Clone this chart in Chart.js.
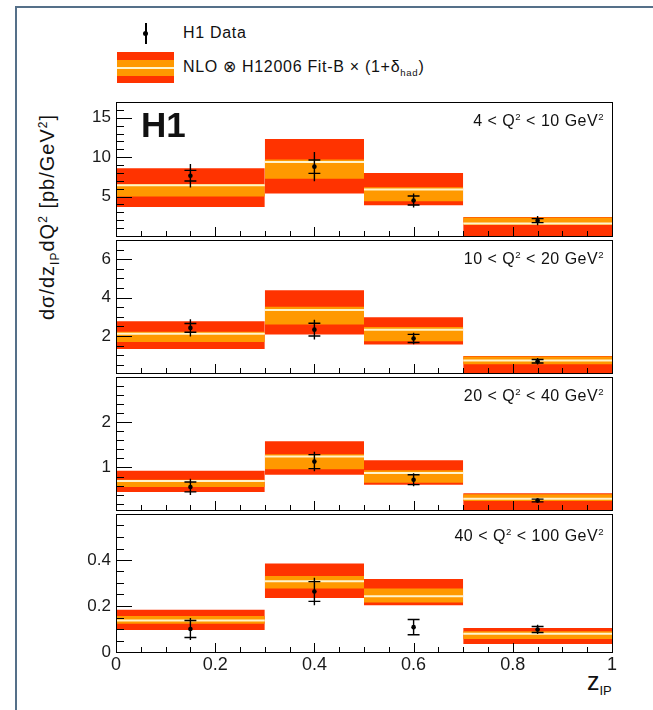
<!DOCTYPE html>
<html lang="en">
<head>
  <meta charset="UTF-8" />
  <title>H1 dijets in DIS: d&sigma;/dz dQ&sup2;</title>
  <script src="https://cdn.jsdelivr.net/npm/chart.js"></script>
  <style>
    body { margin: 0; background: #fff; font-family: 'Liberation Sans', Arial, sans-serif; color: #111; }
    #page { position: relative; width: 653px; height: 710px; overflow: hidden; }
    #frame { position: absolute; left: 15px; top: 6px; width: 700px; height: 800px;
             border-left: 2px solid #557089; border-top: 2px solid #557089; }
    canvas { position: absolute; left: 0; }
    .txt { position: absolute; white-space: nowrap; }
    .qlab { right: 49px; font-size: 16px; line-height: 16px; letter-spacing: 0.5px; }
    .leg { left: 183px; font-size: 16px; line-height: 16px; letter-spacing: 0.7px; }
    sup { font-size: 0.6em; vertical-align: 0.6em; line-height: 0; }
    sub { font-size: 0.6em; vertical-align: -0.4em; line-height: 0; }
    #h1 { left: 141px; top: 107px; font-size: 35px; line-height: 35px; font-weight: bold; }
    #ytitle { left: 47px; top: 217px; font-size: 20px; line-height: 20px; letter-spacing: 1px;
              transform: translate(-50%, -50%) rotate(-90deg); }
    #xtitle { left: 587px; top: 669px; font-size: 25px; line-height: 25px; }
    #legBar { position: absolute; left: 145px; top: 23px; width: 1.5px; height: 21px; background: #000; }
    #legDot { position: absolute; left: 143px; top: 31px; width: 5px; height: 5px; border-radius: 50%; background: #000; }
    #legBand { position: absolute; left: 117px; top: 52px; width: 57px; height: 31px;
               background: linear-gradient(to bottom, #ff3300 0 8px, #ff9900 8px 15px, #fff4cc 15px 17px,
                                           #ff9900 17px 24px, #ff3300 24px 31px); }
  </style>
</head>
<body>
<div id="page">
  <div id="frame"></div>
  <div id="legBar"></div><div id="legDot"></div>
  <div class="txt leg" style="top:25px">H1 Data</div>
  <div id="legBand"></div>
  <div class="txt leg" style="top:59px">NLO &#8855; H12006 Fit-B &times; (1+&delta;<sub>had</sub>)</div>
  <div class="txt" id="ytitle">d&sigma;/dz<sub>IP</sub>dQ<sup>2</sup> [pb/GeV<sup>2</sup>]</div>
  <div class="txt" id="xtitle">z<span style="font-size:13px;position:relative;top:5px">IP</span></div>
</div>

<script>
  // bins in z_IP
  const zBinEdges = [0, 0.3, 0.5, 0.7, 1.0]
  const zPoints = [0.15, 0.4, 0.6, 0.85]
  const q2Labels = [
    '4 &lt; Q<sup>2</sup> &lt; 10 GeV<sup>2</sup>',
    '10 &lt; Q<sup>2</sup> &lt; 20 GeV<sup>2</sup>',
    '20 &lt; Q<sup>2</sup> &lt; 40 GeV<sup>2</sup>',
    '40 &lt; Q<sup>2</sup> &lt; 100 GeV<sup>2</sup>'
  ]

  // 4 < Q2 < 10
  const h1A = [7.65, 8.8, 4.5, 1.95]
  const statA = [0.68, 0.85, 0.57, 0.25]
  const totA = [1.5, 1.85, 0.9, 0.6]
  const fitA = [6.45, 9.4, 5.9, 1.6]
  const innerHiA = [6.6, 9.7, 6.2, 2.35]
  const innerLoA = [5.0, 7.25, 4.4, 1.4]
  const outerHiA = [8.6, 12.3, 8.0, 2.4]
  const outerLoA = [3.67, 5.4, 3.9, 0]

  // 10 < Q2 < 20
  const h1B = [2.42, 2.33, 1.87, 0.68]
  const statB = [0.23, 0.33, 0.21, 0.09]
  const totB = [0.45, 0.52, 0.3, 0.17]
  const fitB = [2.12, 3.35, 2.32, 0.72]
  const innerHiB = [2.22, 3.52, 2.47, 0.93]
  const innerLoB = [1.68, 2.6, 1.72, 0.52]
  const outerHiB = [2.77, 4.38, 2.98, 0.96]
  const outerLoB = [1.32, 2.07, 1.55, 0.07]

  // 20 < Q2 < 40
  const h1C = [0.57, 1.13, 0.73, 0.27]
  const statC = [0.11, 0.155, 0.11, 0.03]
  const totC = [0.18, 0.215, 0.145, 0.05]
  const fitC = [0.70, 1.24, 0.88, 0.31]
  const innerHiC = [0.73, 1.29, 0.94, 0.41]
  const innerLoC = [0.57, 0.96, 0.66, 0.26]
  const outerHiC = [0.93, 1.58, 1.16, 0.43]
  const outerLoC = [0.46, 0.84, 0.62, 0.06]

  // 40 < Q2 < 100
  const h1D = [0.10, 0.263, 0.108, 0.098]
  const statD = [0.037, 0.043, 0.033, 0.013]
  const totD = [0.048, 0.06, 0.033, 0.02]
  const fitD = [0.137, 0.308, 0.242, 0.079]
  const innerHiD = [0.156, 0.33, 0.276, 0.09]
  const innerLoD = [0.123, 0.276, 0.215, 0.057]
  const outerHiD = [0.184, 0.385, 0.317, 0.104]
  const outerLoD = [0.096, 0.235, 0.203, 0.035]

  // axis ranges / ticks per panel
  const yMins = [0, 0.07, 0.06, 0]
  const yMaxs = [17, 7, 3, 0.6]
  const yMajor = [5, 2, 1, 0.2]
  const yMinor = [1, 0.5, 0.2, 0.05]

  const panels = [
    { val: h1A, stat: statA, tot: totA, fit: fitA, inHi: innerHiA, inLo: innerLoA, outHi: outerHiA, outLo: outerLoA },
    { val: h1B, stat: statB, tot: totB, fit: fitB, inHi: innerHiB, inLo: innerLoB, outHi: outerHiB, outLo: outerLoB },
    { val: h1C, stat: statC, tot: totC, fit: fitC, inHi: innerHiC, inLo: innerLoC, outHi: outerHiC, outLo: outerLoC },
    { val: h1D, stat: statD, tot: totD, fit: fitD, inHi: innerHiD, inLo: innerLoD, outHi: outerHiD, outLo: outerLoD }
  ]

  const panelTops = [100, 238, 375, 512]
  const panelBottoms = [238, 375, 512, 652]
  const RED = '#ff3300', ORANGE = '#ff9900', LINE = '#fff4cc'
  const FONT = "'Liberation Sans', Arial, sans-serif"

  function edge(x0, x1, y, color, order, fill) {
    return {
      data: [{ x: x0, y }, { x: x1, y }],
      fill, backgroundColor: color, borderColor: 'rgba(0,0,0,0)',
      borderWidth: 0, pointRadius: 0, order
    }
  }

  function buildDatasets(p) {
    const ds = []
    const fitLine = [], errLine = [], statTicks = []
    const dx = 0.012
    for (let b = 0; b < 4; b++) {
      const x0 = zBinEdges[b], x1 = zBinEdges[b + 1]
      ds.push(edge(x0, x1, p.outHi[b], RED, 4, '+1'))
      ds.push(edge(x0, x1, p.outLo[b], RED, 4, false))
      ds.push(edge(x0, x1, p.inHi[b], ORANGE, 3, '+1'))
      ds.push(edge(x0, x1, p.inLo[b], ORANGE, 3, false))
      fitLine.push({ x: x0, y: p.fit[b] }, { x: x1, y: p.fit[b] }, { x: x1, y: null })

      const x = zPoints[b], v = p.val[b]
      const e = Math.max(p.stat[b], p.tot[b])
      errLine.push({ x, y: v - e }, { x, y: v + e }, { x, y: null })
      statTicks.push({ x: x - dx, y: v + p.stat[b] }, { x: x + dx, y: v + p.stat[b] }, { x, y: null })
      statTicks.push({ x: x - dx, y: v - p.stat[b] }, { x: x + dx, y: v - p.stat[b] }, { x, y: null })
    }
    ds.push({ data: fitLine, borderColor: LINE, borderWidth: 2, pointRadius: 0, fill: false, order: 2 })
    ds.push({ data: errLine, borderColor: '#000', borderWidth: 1.4, pointRadius: 0, fill: false, order: 1 })
    ds.push({ data: statTicks, borderColor: '#000', borderWidth: 1.4, pointRadius: 0, fill: false, order: 1 })
    ds.push({
      data: zPoints.map((x, i) => ({ x, y: p.val[i] })),
      showLine: false, pointRadius: 2.3, pointBackgroundColor: '#000', pointBorderWidth: 0, order: 0
    })
    return ds
  }

  // ROOT-like frame with inward ticks
  const rootFrame = {
    id: 'rootFrame',
    afterDraw(chart, args, opts) {
      const { ctx, chartArea: a, scales: { x, y } } = chart
      ctx.save()
      ctx.strokeStyle = '#000'
      ctx.lineWidth = 1
      ctx.strokeRect(Math.round(a.left) + 0.5, Math.round(a.top) + 0.5,
                     Math.round(a.right - a.left), Math.round(a.bottom - a.top))
      ctx.beginPath()
      const isMajor = (v, m) => Math.abs(v / m - Math.round(v / m)) < 1e-6
      for (let i = Math.ceil(y.min / opts.yMinor - 1e-6); i * opts.yMinor <= y.max + 1e-9; i++) {
        const v = i * opts.yMinor
        const py = Math.round(y.getPixelForValue(v)) + 0.5
        const len = isMajor(v, opts.yMajor) ? 16 : 8
        ctx.moveTo(a.left, py); ctx.lineTo(a.left + len, py)
      }
      for (let i = 1; i * 0.05 < 1 - 1e-9; i++) {
        const v = i * 0.05
        const px = Math.round(x.getPixelForValue(v)) + 0.5
        const len = isMajor(v, 0.2) ? 9 : 5
        ctx.moveTo(px, a.bottom); ctx.lineTo(px, a.bottom - len)
      }
      ctx.stroke()
      ctx.restore()
    }
  }

  const page = document.getElementById('page')

  panels.forEach((p, i) => {
    const last = i === panels.length - 1
    const xAxisH = 45
    const canvas = document.createElement('canvas')
    const h = (panelBottoms[i] - panelTops[i]) + 2 + (last ? xAxisH : 2)
    canvas.width = 653
    canvas.height = h
    canvas.style.top = (panelTops[i] - 2) + 'px'
    page.appendChild(canvas)

    new Chart(canvas, {
      type: 'line',
      data: { datasets: buildDatasets(p) },
      options: {
        responsive: false,
        animation: false,
        devicePixelRatio: 1,
        layout: { padding: { left: 0, right: 41, top: 2, bottom: last ? 0 : 2 } },
        plugins: {
          legend: { display: false },
          tooltip: { enabled: false },
          rootFrame: { yMajor: yMajor[i], yMinor: yMinor[i] }
        },
        scales: {
          x: {
            type: 'linear', min: 0, max: 1,
            display: last,
            grid: { display: false, drawTicks: false },
            border: { display: false },
            ticks: {
              stepSize: 0.2, autoSkip: false, maxRotation: 0, padding: 2,
              font: { family: FONT, size: 18 }, color: '#1a1a1a',
              callback: v => String(+v.toFixed(2))
            },
            afterFit: s => {
              if (!last) return
              s.height = xAxisH; s.paddingLeft = 0; s.paddingRight = 0
            }
          },
          y: {
            min: yMins[i], max: yMaxs[i],
            grid: { display: false, drawTicks: false },
            border: { display: false },
            ticks: {
              stepSize: yMajor[i], includeBounds: false, padding: 5, autoSkip: false,
              font: { family: FONT, size: 17 }, color: '#1a1a1a',
              callback: v => {
                if (v >= yMaxs[i] - 1e-9) return ''
                if (!last && Math.abs(v) < 1e-9) return ''
                return String(+v.toFixed(2))
              }
            },
            afterFit: s => { s.width = 116; s.paddingTop = 0; s.paddingBottom = 0 }
          }
        }
      },
      plugins: [rootFrame]
    })

    const lab = document.createElement('div')
    lab.className = 'txt qlab'
    lab.style.top = (panelTops[i] + 13 + (last ? 3 : 0)) + 'px'
    lab.innerHTML = q2Labels[i]
    page.appendChild(lab)
  })

  const h1 = document.createElement('div')
  h1.className = 'txt'
  h1.id = 'h1'
  h1.textContent = 'H1'
  page.appendChild(h1)
</script>
</body>
</html>
